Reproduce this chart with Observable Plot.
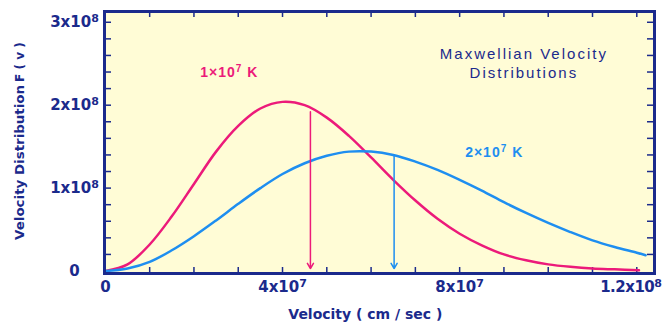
<!DOCTYPE html>
<html>
<head>
<meta charset="utf-8">
<script src="https://cdn.jsdelivr.net/npm/d3@7"></script>
<script src="https://cdn.jsdelivr.net/npm/@observablehq/plot@0.6"></script>
<style>
  html, body { margin: 0; padding: 0; background: #ffffff; }
  #chart { width: 664px; height: 326px; }
</style>
</head>
<body>
<div id="chart"></div>
<script>
// Velocity in units of 1e7 cm/s, F(v) in units of the y tick step
const vRed = [0,0.5,1,1.5,2,2.5,3,3.5,4,4.5,5,5.5,6,6.5,7,7.5,8,8.5,9,9.5,10,10.5,11,11.5,12.05];
const fRed = [0,0.08,0.32,0.66,1.05,1.44,1.75,1.96,2.04,2.00,1.85,1.63,1.37,1.10,0.85,0.63,0.45,0.31,0.20,0.13,0.08,0.05,0.03,0.02,0.01];
const vBlue = [0,0.5,1,1.5,2,2.5,3,3.5,4,4.5,5,5.5,6,6.5,7,7.5,8,8.5,9,9.5,10,10.5,11,11.5,12,12.2];
const fBlue = [0,0.03,0.11,0.25,0.42,0.61,0.81,1.00,1.17,1.30,1.39,1.44,1.44,1.40,1.32,1.22,1.10,0.97,0.83,0.70,0.58,0.47,0.37,0.29,0.22,0.19];

const arrowV = [4.63, 6.52];
const arrowTop = [1.92, 1.40];
const arrowBottom = [0.03, 0.03];
const seriesNames = ["1×10⁷ K", "2×10⁷ K"];

const xTicks = [0, 4, 8, 12];
const xTickLabels = ["0", "4x10⁷", "8x10⁷", "1.2x10⁸"];
const yTicks = [0, 1, 2, 3];
const yTickLabels = ["0", "1x10⁸", "2x10⁸", "3x10⁸"];

const titleText = "Maxwellian Velocity\nDistributions";
const xLabel = "Velocity ( cm / sec )";
const yLabelA = "Velocity Distribution";
const yLabelB = "F ( v )";

const navy = "#1b2a8c";
const red = "#ec1a7a";
const blue = "#1e8ef0";
const bg = "#fffcd6";

const redData = vRed.map((v, i) => ({v, f: fRed[i]}));
const blueData = vBlue.map((v, i) => ({v, f: fBlue[i]}));
const arrows = arrowV.map((v, i) => ({v, top: arrowTop[i], bottom: arrowBottom[i], c: [red, blue][i]}));

const W = 664, H = 326, mL = 104, mR = 10, mT = 11, mB = 53;
const pw = W - mL - mR, ph = H - mT - mB;
const minorX = d3.range(1, 13, 1);
const minorY = d3.range(0.2, 3.11, 0.2);

const plot = Plot.plot({
  width: W, height: H,
  marginLeft: mL, marginRight: mR, marginTop: mT, marginBottom: mB,
  style: {background: "transparent", fontFamily: "DejaVu Sans, sans-serif"},
  x: {domain: [-0.02, 12.4]},
  y: {domain: [-0.03, 3.13]},
  marks: [
    Plot.frame({fill: bg, stroke: null}),
    Plot.tickX(minorX, {x: d => d, stroke: navy, strokeWidth: 1.5, insetTop: ph - 6}),
    Plot.tickX(minorX, {x: d => d, stroke: navy, strokeWidth: 1.5, insetBottom: ph - 6}),
    Plot.tickY(minorY, {y: d => d, stroke: navy, strokeWidth: 1.5, insetRight: pw - 7}),
    Plot.tickY(minorY, {y: d => d, stroke: navy, strokeWidth: 1.5, insetLeft: pw - 7}),
    Plot.line(redData, {x: "v", y: "f", stroke: red, strokeWidth: 2.5, curve: "catmull-rom"}),
    Plot.line(blueData, {x: "v", y: "f", stroke: blue, strokeWidth: 2.5, curve: "catmull-rom"}),
    Plot.arrow(arrows, {x: "v", y1: "top", y2: "bottom", stroke: "c", strokeWidth: 1.5, headLength: 6, bend: 0}),
    Plot.frame({stroke: navy, strokeWidth: 3}),
    Plot.axisX({ticks: xTicks, tickFormat: d => xTickLabels[xTicks.indexOf(d)], tickSize: 0, tickPadding: 8,
      fontSize: 15, fontWeight: "bold", fill: navy, label: null}),
    Plot.axisY({ticks: yTicks, tickFormat: d => yTickLabels[yTicks.indexOf(d)], tickSize: 0, tickPadding: 30,
      textAnchor: "middle", fontSize: 15, fontWeight: "bold", fill: navy, label: null}),
    Plot.text([titleText], {x: 9.45, y: 2.515, text: d => d, fill: navy, fontSize: 15, textAnchor: "middle", lineHeight: 1.3, fontFamily: "Liberation Sans, Arial, sans-serif"}),
    Plot.text([seriesNames[0]], {x: 2.8, y: 2.39, text: d => d, fill: red, fontSize: 14, fontWeight: "bold", textAnchor: "middle", fontFamily: "Liberation Sans, Arial, sans-serif"}),
    Plot.text([seriesNames[1]], {x: 8.78, y: 1.43, text: d => d, fill: blue, fontSize: 14, fontWeight: "bold", textAnchor: "middle", fontFamily: "Liberation Sans, Arial, sans-serif"}),
    Plot.text([xLabel], {x: 5.87, y: -0.52, text: d => d, fill: navy, fontSize: 14, fontWeight: "bold", textAnchor: "middle"}),
    Plot.text([yLabelA], {x: -1.94, y: 1.31, text: d => d, fill: navy, fontSize: 13, fontWeight: "bold", rotate: -90, textAnchor: "middle"}),
    Plot.text([yLabelB], {x: -1.94, y: 2.52, text: d => d, fill: navy, fontSize: 13, fontWeight: "bold", rotate: -90, textAnchor: "middle"})
  ]
});

document.getElementById("chart").appendChild(plot);

// fine typographic adjustments
const supMap = {"⁷": "7", "⁸": "8"};
function superize(node, shift, size) {
  const t = node.textContent;
  if (!/[⁷⁸]/.test(t)) return;
  node.textContent = "";
  const sel = d3.select(node);
  let buf = "", raised = false;
  for (const ch of t) {
    if (supMap[ch]) {
      if (buf) { sel.append("tspan").text(buf); buf = ""; }
      sel.append("tspan").text(supMap[ch]).attr("dy", -shift).attr("font-size", size);
      raised = true;
    } else if (raised) {
      sel.append("tspan").text(ch).attr("dy", shift);
      raised = false;
    } else {
      buf += ch;
    }
  }
  if (buf) sel.append("tspan").text(buf);
}

const svg = d3.select(plot);
svg.selectAll("text").each(function() {
  const t = this.textContent;
  const sel = d3.select(this);
  if (t.startsWith("Maxwellian")) sel.style("letter-spacing", "2px");
  if (t === seriesNames[0] || t === seriesNames[1]) { sel.style("letter-spacing", "1px"); superize(this, 5, 10); return; }
  if (t === yLabelA) sel.attr("textLength", 155).attr("lengthAdjust", "spacingAndGlyphs");
  if (t === yLabelB) sel.attr("textLength", 40).attr("lengthAdjust", "spacingAndGlyphs");
  if (t === xLabel) sel.attr("textLength", 154).attr("lengthAdjust", "spacingAndGlyphs");
  if (t === xTickLabels[xTickLabels.length - 1]) sel.attr("dx", -6).style("letter-spacing", "-0.5px");
  if (xTickLabels.includes(t) || yTickLabels.includes(t)) superize(this, 5, 11);
});
</script>
</body>
</html>
